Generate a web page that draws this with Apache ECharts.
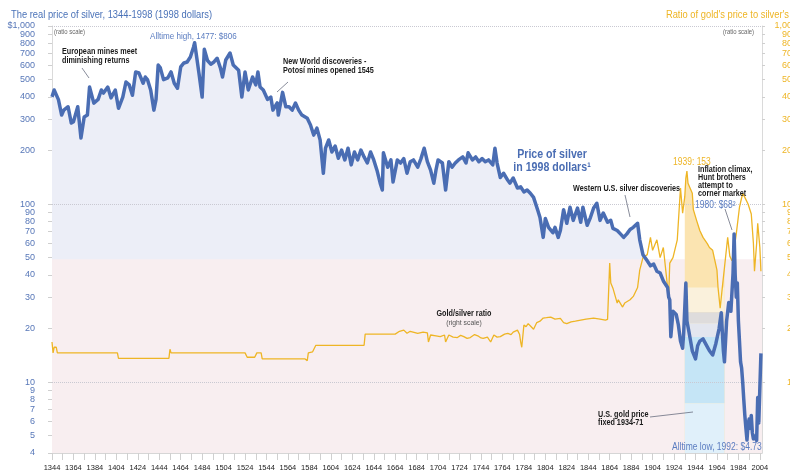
<!DOCTYPE html>
<html lang="en">
<head>
<meta charset="UTF-8">
<title>The real price of silver, 1344-1998</title>
<script src="https://cdn.jsdelivr.net/npm/echarts@6/dist/echarts.min.js"></script>
<style>
    html, body { margin: 0; padding: 0; background: #fff; }
    #main { width: 790px; height: 472px; }
</style>
</head>
<body>
<div id="main"></div>
<script>
// silver price in 1998 dollars (ratio scale)
var silverYears = [1344,1346,1350,1353,1355,1359,1362,1364,1368,1371,1374,1377,1379,1383,1387,1390,1392,1396,1399,1403,
    1406,1410,1413,1416,1419,1422,1425,1429,1431,1433,1436,1439,1441,1443,1445,1448,1452,1455,1458,1461,
    1464,1467,1470,1473,1476,1477,1481,1484,1486,1489,1492,1495,1498,1501,1503,1506,1510,1513,1518,1521,
    1524,1527,1531,1534,1536,1538,1541,1545,1548,1550,1554,1555,1559,1562,1565,1568,1571,1574,1577,1582,
    1585,1588,1591,1594,1597,1599,1602,1605,1608,1611,1614,1617,1620,1623,1626,1629,1632,1635,1638,1641,
    1644,1647,1650,1652,1653,1657,1660,1662,1666,1669,1672,1675,1678,1681,1685,1688,1691,1694,1697,1700,
    1702,1704,1708,1711,1714,1717,1720,1723,1727,1730,1732,1736,1739,1742,1745,1748,1751,1755,1757,1759,
    1762,1765,1769,1771,1774,1778,1781,1784,1787,1790,1793,1797,1799,1802,1804,1807,1811,1813,1816,1818,
    1821,1824,1827,1830,1834,1837,1839,1843,1846,1849,1852,1855,1858,1862,1865,1867,1871,1874,1877,1880,
    1883,1886,1890,1892,1895,1899,1902,1905,1908,1911,1914,1918,1919,1920,1921,1923,1926,1928,1930,1932,
    1933,1935,1936,1938,1941,1944,1946,1948,1951,1954,1957,1960,1963,1966,1968,1970,1971,1973,1975,1977,
    1979,1980,1981,1982,1983,1984,1985,1986,1987,1988,1989,1990,1991,1992,1993,1994,1995,1996,1997,1998,
    2000,2001,2002,2003,2005];
var silverPrice = [400,437,386,316,337,352,285,290,352,235,308,316,454,369,387,437,420,454,395,437,
    345,399,485,467,408,552,545,477,517,500,437,337,387,604,582,500,512,552,477,447,
    589,620,628,669,762,806,545,399,740,640,610,628,659,582,517,644,705,604,565,399,
    552,437,517,467,552,454,437,387,399,337,370,316,424,352,352,337,369,337,316,303,
    278,244,267,229,149,206,229,196,212,181,201,177,206,166,196,177,201,184,170,196,
    177,155,131,120,194,161,177,133,177,170,180,149,173,177,161,180,206,173,155,131,
    155,177,170,120,173,161,170,177,184,170,194,177,184,173,180,173,177,166,206,170,
    141,149,136,131,140,123,125,117,120,115,109,92,84,65,83,74,69,74,65,71,
    93,78,96,81,95,79,96,76,84,95,101,81,89,79,81,73,71,68,65,68,
    72,74,78,63,52,48,45,46,42,41,37,34,30,29,18,25,24,21,17,15.5,
    19,36,22,19,15,13.5,16,17,17.5,16.2,15,14.2,16.5,20,24.5,15,13,22,28,25,
    41,68,40,30,36,22,17,13,12,10,8,6.5,5.5,4.73,5.8,6.2,5.5,6.5,5.2,4.8,
    5.0,4.7,8.2,5.9,14.5];

// gold/silver price ratio (right scale)
var ratioYears = [1344,1345,1346,1348,1349,1405,1406,1453,1454,1455,1524,1526,1533,1535,1539,1540,1580,1582,1583,1587,
    1590,1635,1636,1664,1668,1672,1675,1678,1685,1690,1694,1695,1697,1702,1706,1710,1711,1714,1718,1722,
    1725,1728,1731,1734,1738,1741,1744,1746,1750,1753,1756,1759,1762,1766,1769,1772,1774,1778,1780,1781,
    1782,1784,1786,1788,1791,1793,1796,1799,1802,1805,1809,1813,1818,1821,1824,1828,1832,1837,1842,1849,
    1855,1860,1862,1864,1865,1867,1871,1872,1876,1878,1883,1886,1890,1892,1895,1899,1902,1904,1908,1911,
    1914,1918,1919,1920,1923,1927,1930,1932,1934,1935,1936,1937,1941,1942,1945,1948,1951,1955,1957,1960,
    1964,1965,1967,1969,1971,1973,1974,1976,1978,1979,1982,1985,1988,1990,1993,1996,1998,1999,2001,2002,
    2004,2005];
var ratioValues = [16.8,14.6,15.7,15.7,14.6,14.6,13.6,13.6,15.3,14.6,14.6,13.8,13.8,14.6,14.6,13.5,13.5,13.2,14.6,14.8,
    16.1,16.1,18.6,18.6,19.3,19.6,18.8,19.3,18.8,19.1,18.9,16.8,18.4,18.2,18.0,18.4,16.8,18.4,17.9,17.8,
    18.3,18.0,17.6,17.8,18.5,18.2,17.7,17.6,17.9,16.8,18.4,17.9,18.0,18.6,18.8,18.5,19.1,19.6,18.5,16.8,
    15.7,20.9,20.5,21.3,20.4,19.8,21.6,22.0,22.9,23.0,23.2,22.6,22.8,21.6,21.3,21.8,22.0,22.3,22.6,22.9,
    22.6,22.3,22.5,46.6,36,33.7,27.8,29,26.4,27.8,29,30.3,34,42.6,50,52,65,55,63,50,
    57,34,31,46.6,50,63,123,89,110,140,153,131,115,93,81,71,65,60,57,55,
    42.6,34,26,34,44,57,65,51,48,50,68,96,115,109,100,88,60,42,60,78,
    57,42];

// axis ticks
var yearTicks = [1344,1354,1364,1374,1384,1394,1404,1414,1424,1434,1444,1454,1464,1474,1484,1494,1504,1514,1524,1534,
    1544,1554,1564,1574,1584,1594,1604,1614,1624,1634,1644,1654,1664,1674,1684,1694,1704,1714,1724,1734,
    1744,1754,1764,1774,1784,1794,1804,1814,1824,1834,1844,1854,1864,1874,1884,1894,1904,1914,1924,1934,
    1944,1954,1964,1974,1984,1994,2004];
var yearLabels = [1344,1364,1384,1404,1424,1444,1464,1484,1504,1524,1544,1564,1584,1604,1624,1644,1664,1684,1704,1724,
    1744,1764,1784,1804,1824,1844,1864,1884,1904,1924,1944,1964,1984,2004];
var leftTicks = [4,5,6,7,8,9,10,20,30,40,50,60,70,80,90,100,200,300,400,500,600,700,800,900,1000];
var rightTicks = [10,20,30,40,50,60,70,80,90,100,200,300,400,500,600,700,800,900,1000];
var topTick = [1000];

var FONT = '"Liberation Sans Narrow", "Liberation Sans", Arial, sans-serif';
var BLUE = '#4a6db3';
var GOLD = '#eeb525';
var SQ = 0.85; // squeeze for the condensed look of the labels

var silverData = silverYears.map(function (y, i) { return [y, silverPrice[i]]; });
var ratioData = ratioYears.map(function (y, i) { return [y, ratioValues[i]]; });
var fixedData = ratioData.filter(function (d) { return d[0] >= 1934 && d[0] <= 1971; });

function logVals(arr) { return arr.map(function (v) { return Math.log10(v); }); }
function fromLog(v) { return Math.round(Math.pow(10, v)); }
function below(arr, lim) { return arr.filter(function (v) { return v < lim; }); }
var LMIN = Math.log10(4);

function txt(x, y, s, font, color, align, vAlign, lh) {
    return {
        type: 'text', x: x, y: y, z: 100, silent: true, scaleX: SQ,
        style: { text: s, font: font, fill: color, align: align || 'left', verticalAlign: vAlign || 'middle', lineHeight: lh || 10 }
    };
}
function lead(x1, y1, x2, y2) {
    return { type: 'line', z: 100, silent: true, shape: { x1: x1, y1: y1, x2: x2, y2: y2 }, style: { stroke: '#6a6f80', lineWidth: 0.8 } };
}

// label-only axis in log10 space, so the 1,000 label does not knock out 900
function labelAxis(pos, ticks, labels, color, size, margin, align, fmt, showLine) {
    return {
        type: 'value', position: pos, min: LMIN, max: 3,
        axisLine: { show: showLine, lineStyle: { color: '#dadada' } },
        axisTick: { show: showLine, customValues: logVals(ticks), length: pos === 'left' ? 4 : 3, lineStyle: { color: '#cfcfcf' } },
        axisLabel: {
            customValues: logVals(labels), fontSize: size, color: color, margin: margin, align: align, fontFamily: FONT,
            showMinLabel: true, showMaxLabel: true, hideOverlap: false,
            formatter: function (v) { return fmt(fromLog(v)); }
        },
        splitLine: { show: false }
    };
}
function leftFmt(n) { return n === 1000 ? '$1,000' : String(n); }
function rightFmt(n) { return n === 1000 ? '1,000' : String(n); }

var chart = echarts.init(document.getElementById('main'), null, { renderer: 'canvas' });
var option = {
    animation: false,
    backgroundColor: '#fff',
    grid: { left: 52, right: 28, top: 26, bottom: 19, outerBoundsMode: 'none' },
    xAxis: {
        type: 'value', min: 1344, max: 2006,
        axisLine: { show: true, lineStyle: { color: '#d6d6d6', width: 1 } },
        axisTick: { show: true, customValues: yearTicks, length: 7, lineStyle: { color: '#d0d0d0' } },
        axisLabel: {
            customValues: yearLabels, fontSize: 7.5, color: '#222', margin: 11, fontFamily: FONT,
            hideOverlap: false, formatter: function (v) { return String(v); }
        },
        splitLine: { show: false }
    },
    yAxis: [
        { type: 'log', min: 4, max: 1000, show: false },
        labelAxis('left', leftTicks, below(leftTicks, 1000), '#5777b8', 9, 17, 'right', leftFmt, true),
        labelAxis('right', rightTicks, below(rightTicks, 1000), GOLD, 9, 35, 'right', rightFmt, true),
        labelAxis('left', topTick, topTick, '#5777b8', 9, 17, 'right', leftFmt, false),
        labelAxis('right', topTick, topTick, GOLD, 9, 35, 'right', rightFmt, false)
    ],
    series: [
        {
            // fill under the silver line
            type: 'line', data: silverData, yAxisIndex: 0, z: 1, silent: true,
            symbol: 'none', lineStyle: { width: 0 },
            areaStyle: { color: '#eceef7', opacity: 1, origin: 'start' },
            markArea: {
                z: 2, silent: true, label: { show: false },
                itemStyle: { color: '#f8eef0' },
                data: [[{ xAxis: 1344, yAxis: 4 }, { xAxis: 2006, yAxis: 49 }]]
            },
            markLine: {
                z: 5, silent: true, symbol: 'none', label: { show: false },
                lineStyle: { type: 'dotted', color: '#c9c9d2', width: 1 },
                data: [{ yAxis: 10 }, { yAxis: 100 }, { yAxis: 1000 }]
            }
        },
        {
            // gold price fixed 1934-71
            type: 'line', data: fixedData, yAxisIndex: 0, z: 3, silent: true,
            symbol: 'none', lineStyle: { width: 0 },
            areaStyle: { color: '#fbe4b1', opacity: 1, origin: 'start' },
            markArea: {
                z: 4, silent: true, label: { show: false },
                data: [
                    [{ xAxis: 1934, yAxis: 24.7, itemStyle: { color: '#faf1dc' } }, { xAxis: 1971, yAxis: 34 }],
                    [{ xAxis: 1934, yAxis: 21.4, itemStyle: { color: '#dedcdc' } }, { xAxis: 1971, yAxis: 24.7 }],
                    [{ xAxis: 1934, yAxis: 17.9, itemStyle: { color: '#e3e6ef' } }, { xAxis: 1971, yAxis: 21.4 }],
                    [{ xAxis: 1934, yAxis: 7.62, itemStyle: { color: '#c5e5f6' } }, { xAxis: 1971, yAxis: 17.9 }],
                    [{ xAxis: 1934, yAxis: 4, itemStyle: { color: '#e0f0fa' } }, { xAxis: 1971, yAxis: 7.62 }]
                ]
            }
        },
        {
            name: 'Gold/silver ratio', type: 'line', data: ratioData, yAxisIndex: 0, z: 6,
            symbol: 'none', lineStyle: { color: GOLD, width: 1.3 }
        },
        {
            name: 'Price of silver', type: 'line', data: silverData, yAxisIndex: 0, z: 7,
            symbol: 'none', lineStyle: { color: BLUE, width: 3.5, join: 'round' }
        }
    ],
    graphic: [
        txt(11, 15, 'The real price of silver, 1344-1998 (1998 dollars)', '11px ' + FONT, '#4a72b8'),
        txt(789, 15, "Ratio of gold's price to silver's", '11px ' + FONT, GOLD, 'right'),
        txt(54, 32, '(ratio scale)', '7px ' + FONT, '#666'),
        txt(754, 32, '(ratio scale)', '7px ' + FONT, '#666', 'right'),
        txt(150, 36, 'Alltime high, 1477: $806', '9.5px ' + FONT, '#5a7cc0'),
        txt(62, 47.5, 'European mines meet\ndiminishing returns', 'bold 8.5px ' + FONT, '#1a1a1a', 'left', 'top', 8.5),
        lead(82, 68, 89, 78),
        txt(283, 57.5, 'New World discoveries -\nPotosí mines opened 1545', 'bold 8.5px ' + FONT, '#1a1a1a', 'left', 'top', 8.5),
        lead(288, 82, 277, 92),
        txt(552, 148.5, 'Price of silver\nin 1998 dollars¹', 'bold 12.5px ' + FONT, BLUE, 'center', 'top', 13),
        txt(573, 189, 'Western U.S. silver discoveries', 'bold 8.5px ' + FONT, '#1a1a1a'),
        lead(625, 195, 630, 217),
        txt(673, 162, '1939: 153', '10px ' + FONT, GOLD),
        txt(698, 166, 'Inflation climax,\nHunt brothers\nattempt to\ncorner market', 'bold 8.5px ' + FONT, '#1a1a1a', 'left', 'top', 8),
        txt(695, 205, '1980: $68²', '10px ' + FONT, '#5a7cc0'),
        lead(725, 209, 732, 230),
        txt(464, 314, 'Gold/silver ratio', 'bold 8.5px ' + FONT, '#1a1a1a', 'center'),
        txt(464, 323, '(right scale)', '8px ' + FONT, '#555', 'center'),
        txt(598, 411, 'U.S. gold price\nfixed 1934-71', 'bold 8.5px ' + FONT, '#1a1a1a', 'left', 'top', 8),
        lead(650, 417, 693, 412),
        txt(672, 447, 'Alltime low, 1992: $4.73', '10px ' + FONT, '#5a7cc0')
    ]
};
chart.setOption(option);
</script>
</body>
</html>
